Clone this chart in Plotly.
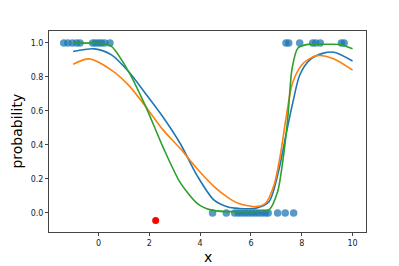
import plotly.graph_objects as go

# observed samples (class 1 near the edges, class 0 in the middle)
x_ones = [-1.37, -1.21, -1.03, -0.86, -0.73, -0.23, -0.12, 0.0, 0.11, 0.24, 0.45,
          7.38, 7.49, 7.92, 8.43, 8.55, 8.73, 9.56, 9.67]
x_zeros = [4.49, 5.03, 5.36, 5.50, 5.63, 5.77, 5.90, 6.04, 6.17, 6.30, 6.44,
           6.57, 6.68, 7.05, 7.35, 7.68]

# query point
x_query = [2.25]
y_query = [-0.045]

# fitted probability curves
blue_x = [-1.0, -0.16, 0.51, 1.19, 1.86, 2.53, 3.21, 3.88, 4.55, 5.1, 5.5, 6.17, 6.71,
          7.11, 7.38, 7.65, 7.92, 8.32, 8.86, 9.27, 10.0]
blue_y = [0.949, 0.965, 0.93, 0.83, 0.70, 0.566, 0.41, 0.22, 0.075, 0.035, 0.027, 0.027, 0.066,
          0.26, 0.46, 0.65, 0.81, 0.90, 0.94, 0.945, 0.894]

orange_x = [-1.0, -0.36, 0.51, 1.19, 1.86, 2.53, 3.21, 3.88, 4.55, 5.1, 5.5, 6.17, 6.57,
            6.91, 7.18, 7.38, 7.65, 8.06, 8.59, 9.27, 10.0]
orange_y = [0.875, 0.906, 0.84, 0.75, 0.625, 0.49, 0.38, 0.26, 0.155, 0.09, 0.057, 0.037, 0.057,
            0.165, 0.36, 0.557, 0.77, 0.88, 0.925, 0.906, 0.84]

green_x = [-1.0, 0.2, 0.51, 1.19, 1.86, 2.53, 3.21, 3.88, 4.42, 5.0, 5.5, 6.17, 6.71,
           7.05, 7.25, 7.45, 7.62, 7.85, 8.19, 9.0, 9.54, 10.0]
green_y = [1.0, 0.995, 0.98, 0.83, 0.625, 0.39, 0.18, 0.057, 0.018, 0.008, 0.008, 0.008, 0.018,
           0.125, 0.30, 0.557, 0.85, 0.97, 0.99, 0.992, 0.99, 0.965]

fig = go.Figure()

fig.add_trace(go.Scatter(x=x_ones + x_zeros, y=[1] * len(x_ones) + [0] * len(x_zeros),
                         mode='markers',
                         marker=dict(color='#1f77b4', size=7.5, opacity=0.75, line=dict(width=0))))
fig.add_trace(go.Scatter(x=blue_x, y=blue_y, mode='lines', line_shape='spline',
                         line=dict(color='#1f77b4', width=1.6, smoothing=0.8)))
fig.add_trace(go.Scatter(x=orange_x, y=orange_y, mode='lines', line_shape='spline',
                         line=dict(color='#ff7f0e', width=1.6, smoothing=0.8)))
fig.add_trace(go.Scatter(x=green_x, y=green_y, mode='lines', line_shape='spline',
                         line=dict(color='#2ca02c', width=1.6, smoothing=0.7)))
fig.add_trace(go.Scatter(x=x_query, y=y_query, mode='markers',
                         marker=dict(color='red', size=7, line=dict(width=0))))

axis_style = dict(showgrid=False, zeroline=False, showline=True, mirror=True,
                  linecolor='#444', linewidth=1, ticks='outside', ticklen=3,
                  tickcolor='#444', automargin=False,
                  tickfont=dict(family='DejaVu Sans', size=8, color='#222'))

# page body adds an 8px offset, so the figure is a bit smaller than the window
fig.update_layout(
    width=391, height=258,
    margin=dict(l=41, r=33, t=23, b=34),
    paper_bgcolor='white', plot_bgcolor='white',
    showlegend=False,
    xaxis=dict(range=[-1.95, 10.53], tickvals=[0, 2, 4, 6, 8, 10], **axis_style),
    yaxis=dict(range=[-0.112, 1.07], tickvals=[0, 0.2, 0.4, 0.6, 0.8, 1.0],
               tickformat='.1f', **axis_style),
    annotations=[
        dict(text='x', xref='paper', yref='paper', x=0.5, y=-0.125, yanchor='middle',
             showarrow=False, font=dict(family='DejaVu Sans', size=14, color='black')),
        dict(text='probability', xref='paper', yref='paper', x=-0.104, y=0.5,
             xanchor='center', yanchor='middle', textangle=-90, showarrow=False,
             font=dict(family='DejaVu Sans', size=14, color='black')),
    ],
)

fig.write_html("out.html")
